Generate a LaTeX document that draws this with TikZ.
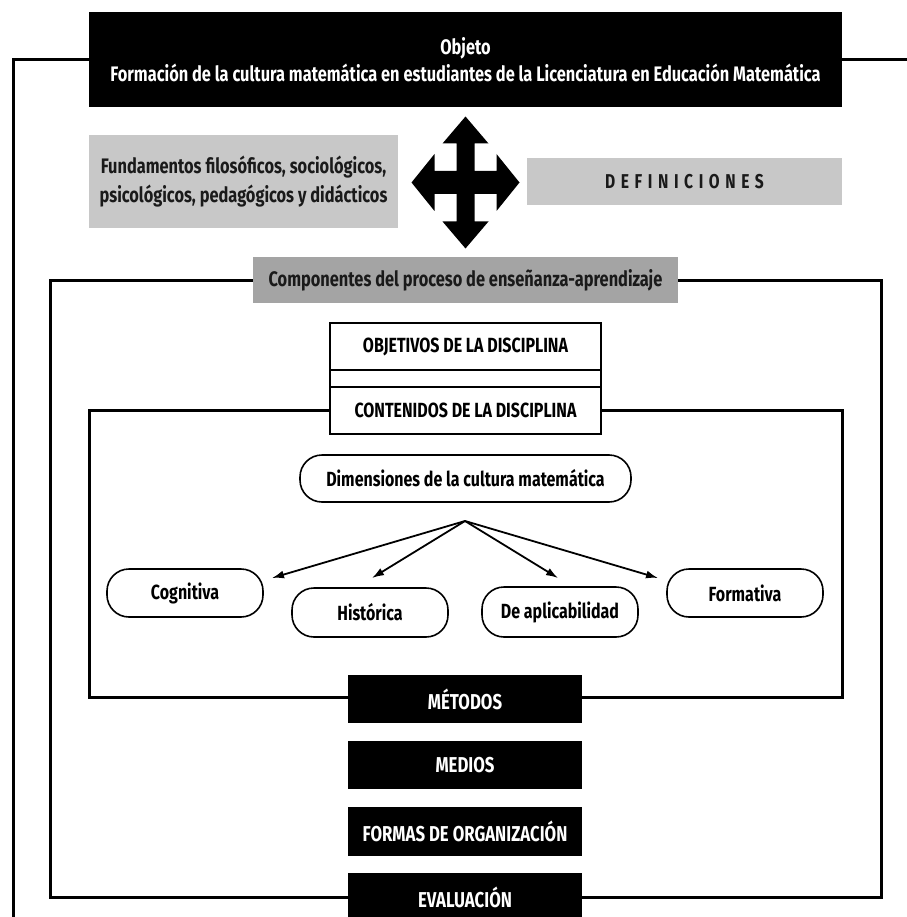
\documentclass[tikz,border=0pt]{standalone}
\usepackage{fontspec}
\setmainfont{Fira Sans}[FakeStretch=0.78]
\usetikzlibrary{arrows.meta}
\definecolor{lgray}{HTML}{C8C8C8}
\definecolor{mgray}{HTML}{A4A4A4}
\definecolor{ink}{HTML}{1A1A1A}
\begin{document}
\begin{tikzpicture}[x=1pt,y=-1pt,
  frame/.style={line width=3pt,line join=miter},
  bbox/.style={fill=black,text=white,inner sep=0pt,font=\bfseries\fontsize{21.5}{24}\selectfont},
  gbox/.style={inner sep=0pt,text=ink,font=\bfseries\fontsize{21}{29}\selectfont,align=center},
  wbox/.style={draw=black,line width=1.6pt,fill=white,inner sep=0pt,minimum width=271pt,minimum height=47pt,font=\bfseries\fontsize{20.5}{22}\selectfont},
  oval/.style={draw=black,line width=1.6pt,fill=white,rounded corners=22pt,inner sep=0pt,font=\bfseries\fontsize{20.5}{22}\selectfont},
  arr/.style={line width=1.8pt,-{Latex[length=12pt,width=8pt]}}]
\useasboundingbox (0,0) rectangle (906,917);
\fill[white] (0,0) rectangle (906,917);

% top object box
\node[bbox,minimum width=753pt,minimum height=95pt,align=center,font=\bfseries\fontsize{21}{27}\selectfont] (obj) at (465.5,59.5) {Objeto\\Formación de la cultura matemática en estudiantes de la Licenciatura en Educación Matemática};
\draw[frame] (obj.west) -- (13,59.5) -- (13,925);
\draw[frame] (obj.east) -- (910,59.5);

% fundamentos and definiciones
\node[gbox,fill=lgray,minimum width=309pt,minimum height=93pt] (fund) at (243.5,181.5) {Fundamentos filosóficos, sociológicos,\\psicológicos, pedagógicos y didácticos};
\node[gbox,fill=lgray,minimum width=315pt,minimum height=47pt,font=\bfseries\fontsize{20}{22}\selectfont\addfontfeature{LetterSpace=28}] (defs) at (684.5,181.5) {DEFINICIONES};

% four-way arrow
\fill[black] (465.5,181.5) ++(0,-65) -- ++(23,27) -- ++(-14,0) -- ++(0,27.5) -- ++(22,0) -- ++(0,-17) -- ++(23,28.5) -- ++(-23,28.5) -- ++(0,-17) -- ++(-22,0) -- ++(0,27.5) -- ++(14,0) -- ++(-23,27) -- ++(-23,-27) -- ++(14,0) -- ++(0,-27.5) -- ++(-22,0) -- ++(0,17) -- ++(-23,-28.5) -- ++(23,-28.5) -- ++(0,17) -- ++(22,0) -- ++(0,-27.5) -- ++(-14,0) -- cycle;

% components frame
\node[gbox,fill=mgray,minimum width=425pt,minimum height=46pt] (comp) at (465.5,280) {Componentes del proceso de enseñanza-aprendizaje};

% black boxes
\node[bbox,minimum width=234pt,minimum height=48pt] (met) at (465,699) {MÉTODOS};
\node[bbox,minimum width=234pt,minimum height=48pt] (med) at (465,765) {MEDIOS};
\node[bbox,minimum width=234pt,minimum height=49pt] (forg) at (465,831.5) {FORMAS DE ORGANIZACIÓN};
\node[bbox,minimum width=234pt,minimum height=48pt] (eval) at (465,897) {EVALUACIÓN};

\draw[frame] (comp.west) -- (50,280) -- (50,897) -- (eval.west);
\draw[frame] (comp.east) -- (881,280) -- (881,897) -- (eval.east);

% objetivos / contenidos
\node[wbox] (objd) at (465.5,346.5) {OBJETIVOS DE LA DISCIPLINA};
\node[wbox,minimum height=17pt] (strip) at (465.5,378.5) {};
\node[wbox] (cont) at (465.5,410.5) {CONTENIDOS DE LA DISCIPLINA};

\draw[frame] (cont.west) -- (89,410.5) -- (89,697) -- (met.west |- 0,697);
\draw[frame] (cont.east) -- (842,410.5) -- (842,697) -- (met.east |- 0,697);

% dimensions
\node[oval,minimum width=331pt,minimum height=47pt] (dim) at (465.5,478.5) {Dimensiones de la cultura matemática};
\node[oval,minimum width=156pt,minimum height=48pt] (cog) at (185,593) {Cognitiva};
\node[oval,minimum width=156pt,minimum height=49pt] (his) at (370,612.5) {Histórica};
\node[oval,minimum width=156pt,minimum height=50pt] (apl) at (560,612) {De aplicabilidad};
\node[oval,minimum width=156pt,minimum height=48pt] (fom) at (745,593) {Formativa};

\coordinate (src) at (465,521);
\coordinate (tcog) at (272,578);
\coordinate (this) at (372,578);
\coordinate (tapl) at (558,578);
\coordinate (tfom) at (658,578);
\draw[arr] (src) -- (tcog);
\draw[arr] (src) -- (this);
\draw[arr] (src) -- (tapl);
\draw[arr] (src) -- (tfom);
\end{tikzpicture}
\end{document}
